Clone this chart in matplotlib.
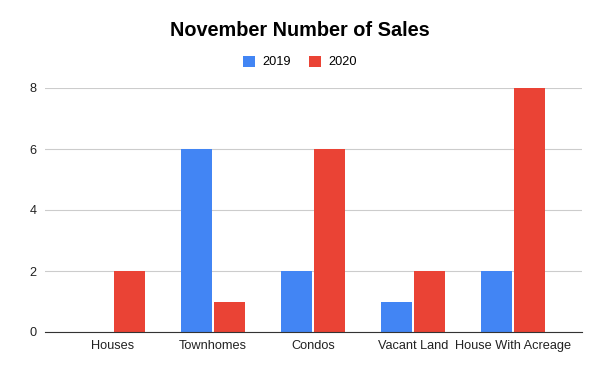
import numpy as np
import matplotlib.pyplot as plt

categories = ["Houses", "Townhomes", "Condos", "Vacant Land", "House With Acreage"]
sales_2019 = [0, 6, 2, 1, 2]
sales_2020 = [2, 1, 6, 2, 8]
y_ticks = [0, 2, 4, 6, 8]

blue = "#4285F4"
red = "#EA4335"

plt.rcParams['font.family'] = ['Liberation Sans', 'DejaVu Sans']

fig = plt.figure(figsize=(6, 3.71), dpi=100)
ax = fig.add_axes([45 / 600, 1 - 332 / 371, 537 / 600, 244 / 371])

x = np.arange(len(categories))
w = 0.31
ax.bar(x - 0.165, sales_2019, width=w, color=blue, label="2019", zorder=3)
ax.bar(x + 0.165, sales_2020, width=w, color=red, label="2020", zorder=3)

ax.set_xlim(-0.68, 4.69)
ax.set_ylim(0, 8)
ax.set_yticks(y_ticks)
ax.set_xticks(x)
ax.set_xticklabels(categories)
ax.tick_params(axis="both", length=0, labelsize=9.2, colors="#222222")
ax.tick_params(axis="y", pad=6)
ax.tick_params(axis="x", pad=6)
ax.grid(axis="y", color="#cccccc", linewidth=0.8, zorder=0)
for s in ["top", "right", "left"]:
    ax.spines[s].set_visible(False)
ax.spines["bottom"].set_color("#333333")
ax.spines["bottom"].set_zorder(4)

fig.text(0.5, 1 - 31 / 371, "November Number of Sales", ha="center", va="center",
         fontsize=14.3, fontweight="bold", color="#000000")
fig.legend(loc="center", bbox_to_anchor=(0.5, 1 - 62 / 371), ncol=2, frameon=False,
           fontsize=9.2, handlelength=0.95, handleheight=0.95, columnspacing=1.4,
           handletextpad=0.6)

fig.savefig("out.png", dpi=100)
